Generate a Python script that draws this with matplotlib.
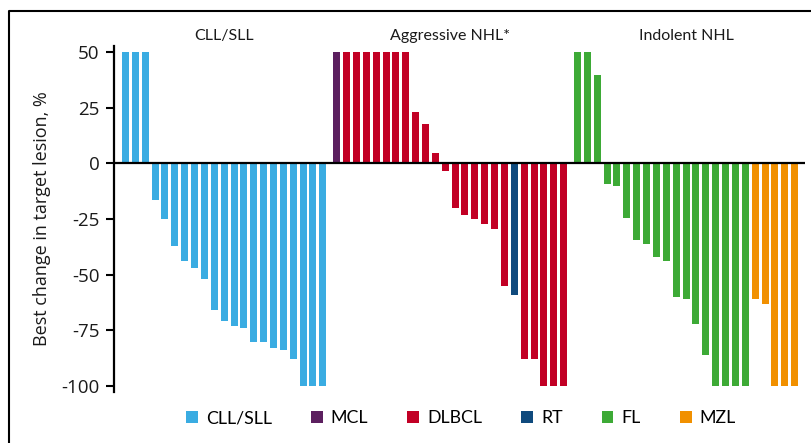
import matplotlib
matplotlib.use("Agg")
import matplotlib.pyplot as plt
from matplotlib.patches import Patch
from matplotlib.lines import Line2D
import numpy as np

# ---------------- data ----------------
group_titles = ["CLL/SLL", "Aggressive NHL*", "Indolent NHL"]

cll_values = [50, 50, 50, -16.5, -25, -37.2, -43.8, -47.1, -52, -66, -70.9,
              -73.1, -74.1, -80.3, -80.3, -83, -83.9, -88, -100, -100, -100]
cll_types = ["CLL/SLL"] * 21

aggr_values = [50, 50, 50, 50, 50, 50, 50, 50, 23.1, 17.7, 4.6, -3.3, -19.9,
               -23.2, -25, -27.3, -29.5, -55.2, -59.2, -88, -88, -100, -100, -100]
aggr_types = (["MCL"] + ["DLBCL"] * 17 + ["RT"] + ["DLBCL"] * 5)

indolent_values = [50, 50, 39.7, -9.3, -10.2, -24.6, -34.5, -36.3, -42.1, -43.9,
                   -60.1, -61, -72.3, -86.2, -100, -100, -100, -100,
                   -61, -63.3, -100, -100, -100]
indolent_types = ["FL"] * 18 + ["MZL"] * 5

legend_labels = ["CLL/SLL", "MCL", "DLBCL", "RT", "FL", "MZL"]
colors = {"CLL/SLL": "#3AACE2", "MCL": "#5C1F5F", "DLBCL": "#C20025",
          "RT": "#0F4A7D", "FL": "#3DAA36", "MZL": "#F19000"}

y_ticks = [50, 25, 0, -25, -50, -75, -100]
y_label = "Best change in target lesion, %"

# ---------------- layout ----------------
W, H = 811, 443
fig = plt.figure(figsize=(W / 100, H / 100), dpi=100)
ax = fig.add_axes([114.3 / W, 50.6 / H, (805 - 114.3) / W, 346.8 / H])

tick_font = "Open Sans"
title_font = "Lato"

groups = [(cll_values, cll_types), (aggr_values, aggr_types),
          (indolent_values, indolent_types)]
gap = 1.4
start = 0.0
centers = []
for vals, types in groups:
    x = start + np.arange(len(vals))
    ax.bar(x, vals, width=0.71, color=[colors[t] for t in types], zorder=2)
    centers.append((x[0] + x[-1]) / 2)
    start = x[-1] + gap

ax.set_xlim(-1.13, 68.85)
ax.set_ylim(-103, 53)
ax.axhline(0, color="black", lw=1.6, zorder=3)

for c, t in zip(centers, group_titles):
    ax.text(c, 1.0285, t, transform=ax.get_xaxis_transform(), ha="center",
            va="center", fontsize=11.5, family=title_font, color="#1a1a1a")

for s in ["top", "right", "bottom"]:
    ax.spines[s].set_visible(False)
ax.spines["left"].set_linewidth(1.6)
ax.set_xticks([])
ax.set_yticks(y_ticks)
ax.set_yticklabels([str(v) for v in y_ticks], family=tick_font, fontsize=13.5,
                   color="#1a1a1a")
ax.tick_params(axis="y", length=6, width=1.5, pad=4.5, direction="out")
ax.set_ylabel(y_label, family=tick_font, fontsize=13, color="#1a1a1a")
ax.yaxis.set_label_coords(-0.092, 0.5)

handles = [Patch(facecolor=colors[l], edgecolor="none") for l in legend_labels]
fig.legend(handles, legend_labels, loc="center", bbox_to_anchor=(461 / W, 1 - 418 / H),
           ncol=6, frameon=False, handlelength=0.66, handleheight=0.66,
           handletextpad=0.45, columnspacing=2.2,
           prop={"family": title_font, "size": 12.8})

# outer frame (left and top edges)
fig.add_artist(Line2D([9 / W, 9 / W, 1.0], [0.0, 1 - 11 / H, 1 - 11 / H],
                      transform=fig.transFigure, color="black", lw=1.5))

fig.savefig("out.png", dpi=100)
